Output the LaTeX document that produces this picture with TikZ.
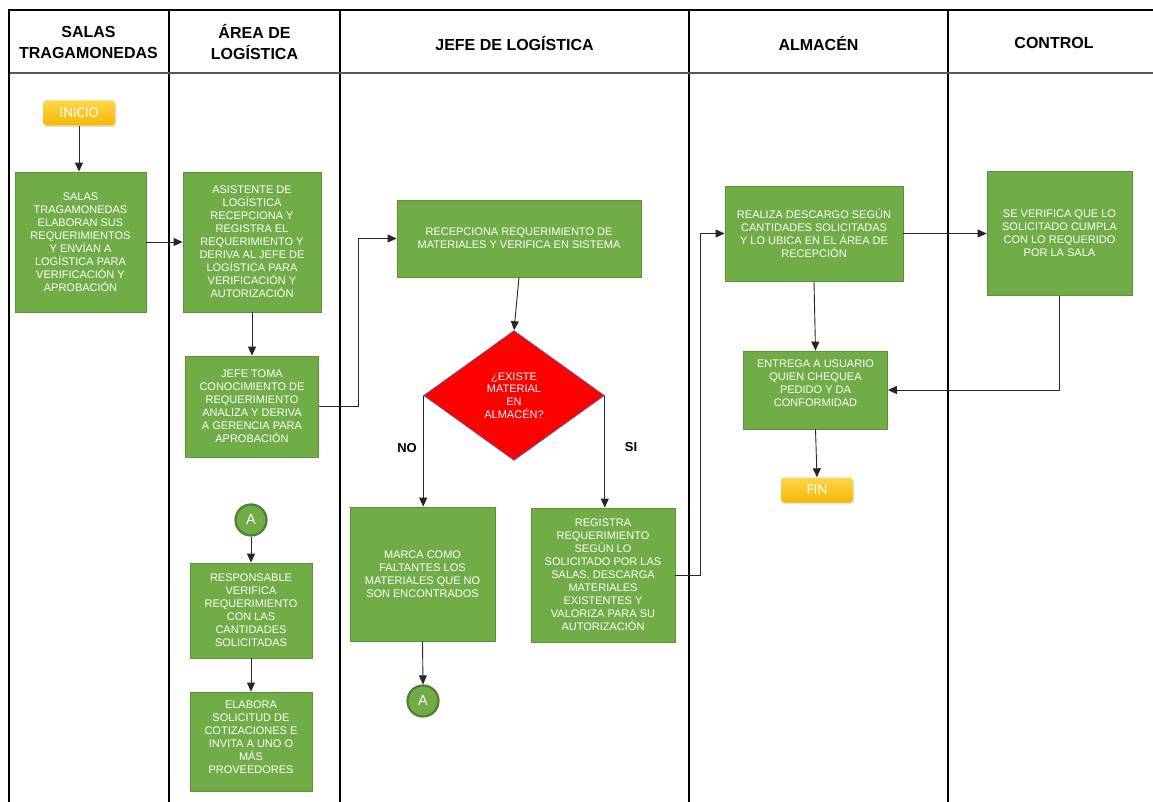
\documentclass[tikz,border=0pt]{standalone}
\usepackage{fontspec}
\setmainfont{Liberation Sans}
\newfontfamily\calib{Carlito}
\usetikzlibrary{arrows.meta,shapes.geometric,shadows}
\definecolor{boxgreen}{HTML}{70AD47}
\definecolor{boxedge}{HTML}{5B9138}
\definecolor{ringgreen}{HTML}{507E32}
\definecolor{termtop}{HTML}{FFD54A}
\definecolor{termbot}{HTML}{F5B800}
\definecolor{decblue}{HTML}{4472C4}
\definecolor{wire}{HTML}{262626}
\definecolor{rulegray}{HTML}{595959}

\begin{document}
\begin{tikzpicture}[x=1pt,y=-1pt,
  proc/.style={rectangle, fill=boxgreen, draw=boxedge, line width=0.8pt,
    text=white, align=center, inner sep=0pt,
    font=\fontsize{11}{13}\selectfont},
  term/.style={rectangle, rounded corners=3.5pt, top color=termtop,
    bottom color=termbot, draw=none, text=white,
    font=\calib\fontsize{15}{15}\selectfont,
    minimum width=72pt, minimum height=25pt,
    drop shadow={opacity=0.25, shadow xshift=1pt, shadow yshift=-1.5pt}},
  conn/.style={circle, fill=boxgreen, draw=ringgreen, line width=2.2pt,
    text=white, minimum size=31pt, inner sep=0pt,
    font=\fontsize{14.5}{14.5}\selectfont},
  dec/.style={diamond, fill=red, draw=decblue, line width=0.6pt,
    minimum width=181pt, minimum height=130pt, inner sep=0pt,
    text=white, align=center, font=\fontsize{11}{12.7}\selectfont},
  arr/.style={draw=wire, line width=0.9pt, -{Triangle[length=9pt,width=8pt]}},
  head/.style={font=\bfseries\fontsize{16}{21}\selectfont, align=center},
  lbl/.style={font=\bfseries\fontsize{13}{13}\selectfont},
  lane/.style={line width=2.4pt, black}
]
\useasboundingbox (0,0) rectangle (1153,802);
\fill[white] (0,0) rectangle (1153,802);

% swimlane grid
\draw[lane, line width=2pt] (8,10) -- (1153,10);
\draw[lane, line width=2.8pt] (9,9) -- (9,802);
\foreach \x in {169,340,689,948} \draw[lane] (\x,10) -- (\x,802);
\draw[rulegray, line width=1.2pt] (10,73) -- (1153,73);

% lane titles
\node[head] (hsalas) at (88.5,42) {SALAS\\TRAGAMONEDAS};
\node[head] (harea) at (254.5,42) {ÁREA DE\\LOGÍSTICA};
\node[head] (hjefe) at (514.5,43) {JEFE DE LOGÍSTICA};
\node[head] (halm) at (818.5,43) {ALMACÉN};
\node[head] (hctrl) at (1054,43) {CONTROL};

% salas tragamonedas
\node[term] (inicio) at (79,113) {INICIO};
\node[proc, minimum width=131pt, minimum height=140pt] (salas) at (80.5,242)
  {SALAS\\TRAGAMONEDAS\\ELABORAN SUS\\REQUERIMIENTOS\\Y ENVÍAN A\\LOGÍSTICA PARA\\VERIFICACIÓN Y\\APROBACIÓN};

% área de logística
\node[proc, minimum width=138pt, minimum height=140pt] (asist) at (252,242)
  {ASISTENTE DE\\LOGÍSTICA\\RECEPCIONA Y\\REGISTRA EL\\REQUERIMIENTO Y\\DERIVA AL JEFE DE\\LOGÍSTICA PARA\\VERIFICACIÓN Y\\AUTORIZACIÓN};
\node[proc, minimum width=133pt, minimum height=101pt] (jtoma) at (252,406.5)
  {JEFE TOMA\\CONOCIMIENTO DE\\REQUERIMIENTO\\ANALIZA Y DERIVA\\A GERENCIA PARA\\APROBACIÓN};
\node[conn] (conA1) at (251,520) {A};
\node[proc, minimum width=122pt, minimum height=95pt] (resp) at (251,610.5)
  {RESPONSABLE\\VERIFICA\\REQUERIMIENTO\\CON LAS\\CANTIDADES\\SOLICITADAS};
\node[proc, minimum width=122pt, minimum height=99pt] (elab) at (251,741.5)
  {ELABORA\\SOLICITUD DE\\COTIZACIONES E\\INVITA A UNO O\\MÁS\\PROVEEDORES\\[-4pt]\mbox{}};

% jefe de logística
\node[proc, minimum width=244pt, minimum height=77pt] (recep) at (519,238.5)
  {RECEPCIONA REQUERIMIENTO DE\\MATERIALES Y VERIFICA EN SISTEMA};
\node[dec] (dec) at (514,395.5) {¿EXISTE\\MATERIAL\\EN\\ALMACÉN?};
\node[lbl] (lno) at (407,448) {NO};
\node[lbl] (lsi) at (631,447) {SI};
\node[proc, minimum width=145pt, minimum height=134pt] (marca) at (422.5,574)
  {MARCA COMO\\FALTANTES LOS\\MATERIALES QUE NO\\SON ENCONTRADOS};
\node[conn] (conA2) at (423,701) {A};
\node[proc, minimum width=144pt, minimum height=134pt] (regis) at (603,575)
  {REGISTRA\\REQUERIMIENTO\\SEGÚN LO\\SOLICITADO POR LAS\\SALAS, DESCARGA\\MATERIALES\\EXISTENTES Y\\VALORIZA PARA SU\\AUTORIZACIÓN};

% almacén
\node[proc, minimum width=178pt, minimum height=95pt] (realiza) at (814,233.5)
  {REALIZA DESCARGO SEGÚN\\CANTIDADES SOLICITADAS\\Y LO UBICA EN EL ÁREA DE\\RECEPCIÓN};
\node[proc, minimum width=144pt, minimum height=78pt] (entrega) at (815.5,390)
  {ENTREGA A USUARIO\\QUIEN CHEQUEA\\PEDIDO Y DA\\CONFORMIDAD\\ \mbox{}};
\node[term] (fin) at (817,490) {FIN};

% control
\node[proc, minimum width=145pt, minimum height=124pt] (verif) at (1059.5,233.5)
  {SE VERIFICA QUE LO\\SOLICITADO CUMPLA\\CON LO REQUERIDO\\POR LA SALA};

% flow
\draw[arr] (inicio.south) -- (inicio.south |- salas.north);
\draw[arr] (salas.east) -- (asist.west);
\draw[arr] (asist.south) -- (jtoma.north);
\draw[arr] (jtoma.east) -- ++(40,0) |- (recep.west);
\draw[arr] (recep.south) -- (dec.north);
\draw[arr] (dec.west) -- (dec.west |- marca.north);
\draw[arr] (dec.east) -- (dec.east |- regis.north);
\draw[arr] (marca.south) -- (conA2.north);
\draw[arr] (regis.east) -- ++(25,0) |- (realiza.west);
\draw[arr] (realiza.east) -- (verif.west);
\draw[arr] (realiza.south) -- (entrega.north);
\draw[arr] (verif.south) |- (entrega.east);
\draw[arr] (entrega.south) -- (fin.north);
\draw[arr] (conA1.south) -- (resp.north);
\draw[arr] (resp.south) -- (elab.north);
\end{tikzpicture}
\end{document}
